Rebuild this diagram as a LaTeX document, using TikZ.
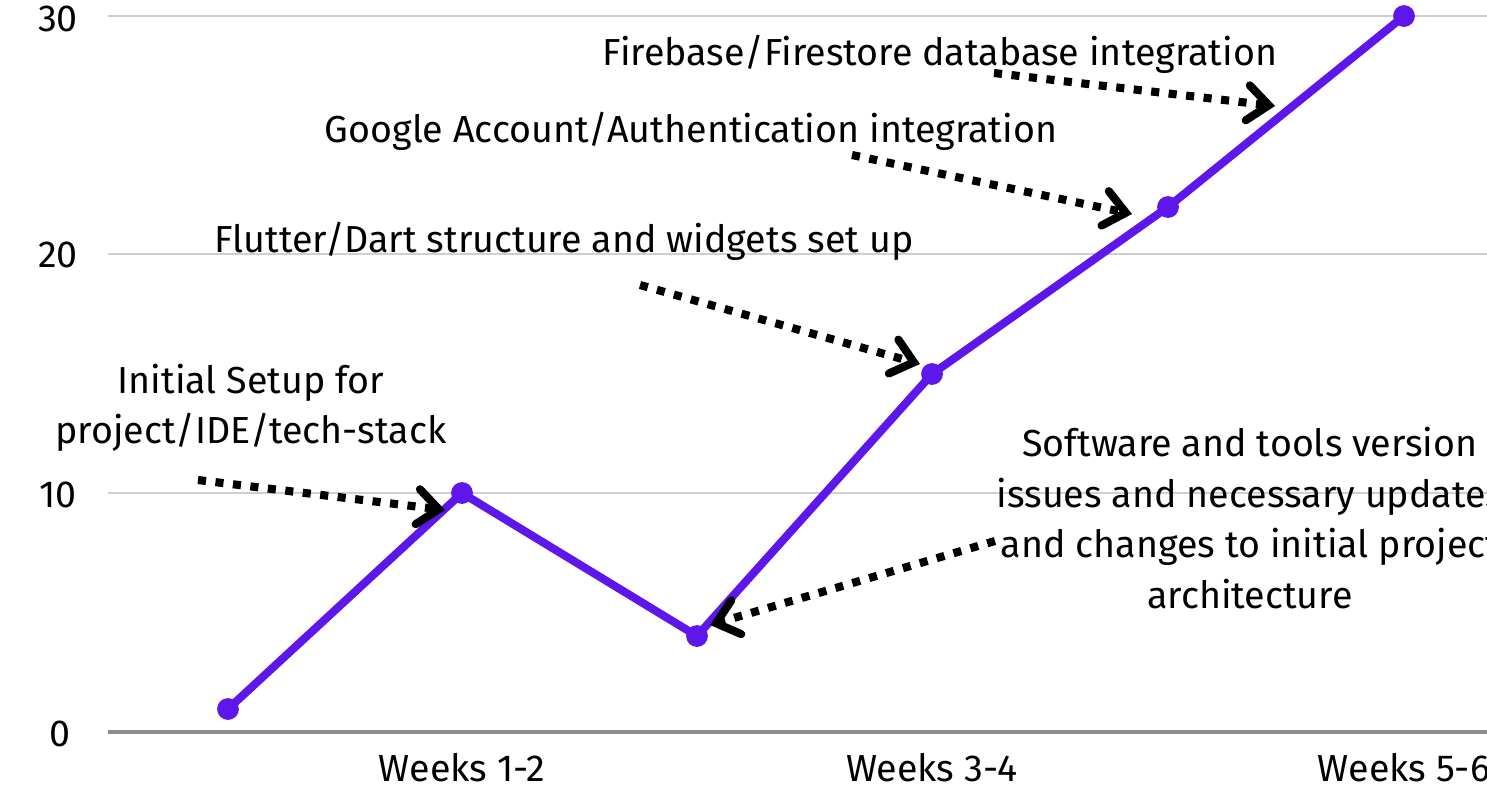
\documentclass[tikz,border=0pt]{standalone}
\usepackage{fontspec}
\setmainfont{Fira Sans}
\usetikzlibrary{arrows.meta}
\definecolor{linepurple}{HTML}{5E17EB}
\definecolor{gridgray}{HTML}{CFCFCF}
\definecolor{axisgray}{HTML}{8C8C8C}

\begin{document}
\begin{tikzpicture}[x=0.01cm, y=-0.01cm,
    every node/.style={font=\fontsize{10.7}{14.4}\selectfont, text=black},
    gridline/.style={gridgray, line width=0.6pt},
    dataline/.style={linepurple, line width=2.3pt, line join=round},
    datadot/.style={fill=linepurple},
    note/.style={align=center, inner sep=0pt},
    pointer/.style={line width=2.3pt, dash pattern=on 2.3pt off 2.7pt,
        -{Straight Barb[length=6pt, width=10pt, line cap=round]}}]
    %%%%% START %%%%%
    \useasboundingbox (0,0) rectangle (1487,787);

    % grid and axis
    \foreach \y in {16, 254, 493}
        \draw[gridline] (108,\y) -- (1487,\y);
    \draw[axisgray, line width=0.9pt] (108,732) -- (1487,732);

    \node (y30) at (58,19) {30};
    \node (y20) at (58,255) {20};
    \node (y10) at (58,495) {10};
    \node (y0) at (60,734) {0};

    \node (wk12) at (462,768) {Weeks 1-2};
    \node (wk34) at (932,768) {Weeks 3-4};
    \node (wk56) at (1404,768) {Weeks 5-6};

    % data
    \foreach \n/\x/\y in {1/228/709, 2/462/493, 3/697/636, 4/932/374, 5/1168/207, 6/1404/16}
        \coordinate (p\n) at (\x,\y);
    \draw[dataline] (p1) -- (p2) -- (p3) -- (p4) -- (p5) -- (p6);
    \foreach \n in {1,...,6}
        \fill[datadot] (p\n) circle (3.1pt);

    % notes
    \node[note] (setup) at (251,408) {Initial Setup for\\project/IDE/tech-stack};
    \node[note] (flutter) at (564,241) {Flutter/Dart structure and widgets set up};
    \node[note] (google) at (691,131) {Google Account/Authentication integration};
    \node[note] (firebase) at (940,54) {Firebase/Firestore database integration};
    \node[note] (versions) at (1250,518) {Software and tools version\\issues and necessary updates\\and changes to initial project\\architecture};

    \coordinate (setup-from) at (198,480);
    \coordinate (setup-to) at (445,510);
    \coordinate (flutter-from) at (640,285);
    \coordinate (flutter-to) at (920,364);
    \coordinate (google-from) at (852,155);
    \coordinate (google-to) at (1132,214);
    \coordinate (firebase-from) at (994,73);
    \coordinate (firebase-to) at (1275,106);
    \coordinate (versions-from) at (995,541);
    \coordinate (versions-to) at (710,625);

    \draw[pointer] (setup-from) -- (setup-to);
    \draw[pointer] (flutter-from) -- (flutter-to);
    \draw[pointer] (google-from) -- (google-to);
    \draw[pointer] (firebase-from) -- (firebase-to);
    \draw[pointer] (versions-from) -- (versions-to);

    %%%%% END %%%%%
\end{tikzpicture}
\end{document}
